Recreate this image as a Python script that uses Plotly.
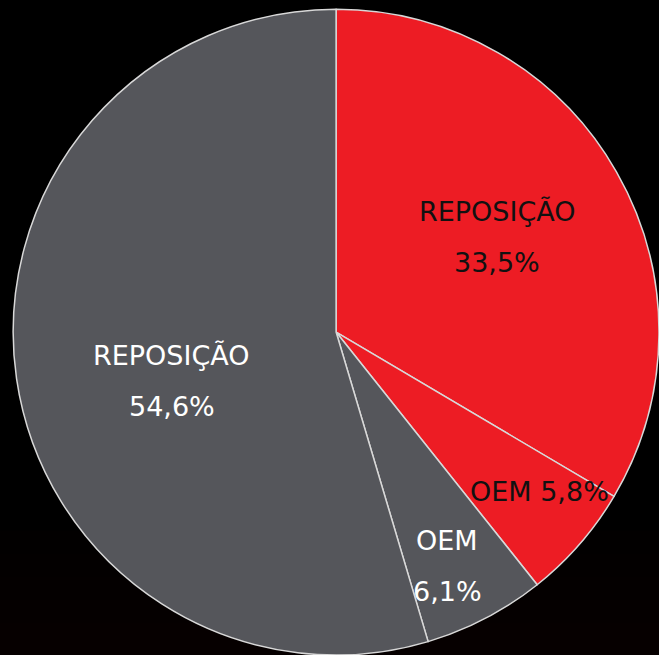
import math

import plotly.graph_objects as go

RED = "#ED1C24"
GREY = "#55565B"

# slices, clockwise from 12 o'clock
segmentos = ["REPOSIÇÃO", "OEM", "OEM", "REPOSIÇÃO"]
grupos = ["vermelho", "vermelho", "cinza", "cinza"]
valores = [33.5, 5.8, 6.1, 54.6]

# label placement per slice: fraction of radius, angular nudge (deg), two lines?
raio_rel = [0.58, 0.80, 0.80, 0.53]
ajuste_ang = [-1.0, -3.0, 2.0, -8.0]
duas_linhas = [True, False, True, True]

cores = [RED if g == "vermelho" else GREY for g in grupos]
cores_texto = ["#111111" if g == "vermelho" else "#FFFFFF" for g in grupos]

W, H = 659, 655
DOM_X = [0.02, 1.0]
DOM_Y = [0.0, 0.986]

fig = go.Figure()

# faint dark-red haze at the bottom of the black background
for i in range(5):
    fig.add_shape(
        type="rect", xref="paper", yref="paper",
        x0=0, x1=1, y0=0, y1=0.19 - i * 0.035,
        fillcolor="rgba(90,8,8,0.025)", line_width=0, layer="below",
    )

fig.add_trace(
    go.Pie(
        labels=[f"{s} ({g})" for s, g in zip(segmentos, grupos)],
        values=valores,
        textinfo="none",
        marker=dict(colors=cores, line=dict(color="#D8D8D8", width=1.5)),
        sort=False,
        direction="clockwise",
        rotation=0,
        showlegend=False,
        hoverinfo="label+percent",
        domain=dict(x=DOM_X, y=DOM_Y),
    )
)

# labels at each slice's mid-angle, computed from the values
cx = (DOM_X[0] + DOM_X[1]) / 2
cy = (DOM_Y[0] + DOM_Y[1]) / 2
raio_px = min((DOM_X[1] - DOM_X[0]) * W, (DOM_Y[1] - DOM_Y[0]) * H) / 2
total = sum(valores)
acum = 0.0
for seg, val, cor, f, da, dl in zip(segmentos, valores, cores_texto, raio_rel, ajuste_ang, duas_linhas):
    meio = (acum + val / 2) / total * 360 + da
    acum += val
    ang = math.radians(meio)
    x = cx + f * raio_px * math.sin(ang) / W
    y = cy + f * raio_px * math.cos(ang) / H
    pct = f"{val:.1f}".replace(".", ",") + "%"
    fonte = dict(family="DejaVu Sans", size=27, color=cor)
    comum = dict(x=x, y=y, xref="paper", yref="paper", showarrow=False,
                 font=fonte, xanchor="center", yanchor="middle")
    if dl:
        fig.add_annotation(text=seg, yshift=25, **comum)
        fig.add_annotation(text=pct, yshift=-26, **comum)
    else:
        fig.add_annotation(text=f"{seg} {pct}", **comum)

fig.update_layout(
    width=W,
    height=H,
    margin=dict(l=0, r=0, t=0, b=0),
    paper_bgcolor="#000000",
    plot_bgcolor="#000000",
)

fig.write_html(
    "out.html",
    config={"displayModeBar": False},
    post_script="document.body.style.margin='0';document.body.style.background='#000';",
)
